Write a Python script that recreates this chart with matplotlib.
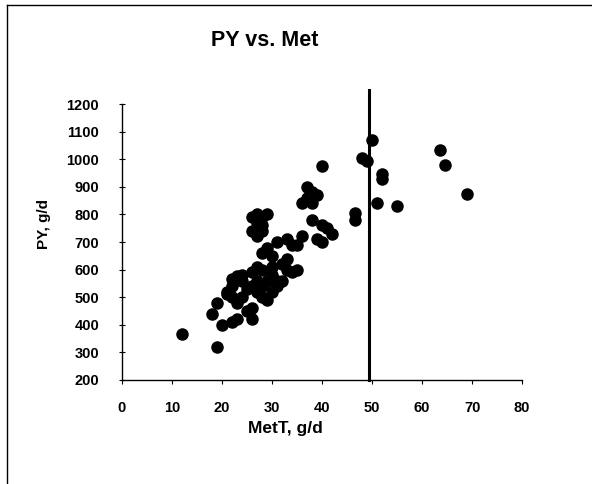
import matplotlib.pyplot as plt
from matplotlib.lines import Line2D

# --- data (MetT g/d, PY g/d)
met_t = [12, 19, 18, 19, 20, 22, 23, 21, 22, 22, 23, 24, 23, 24, 25, 26,
         26, 25, 26, 27, 27, 28, 28, 28, 29, 29, 30, 30, 31, 30, 31, 26,
         27, 32, 33, 34, 35, 33, 32, 31, 33, 34, 36, 35, 21, 22, 24,
         26, 27, 28, 27, 28, 26, 27, 28, 29, 28, 29, 30,
         37, 38, 37, 39, 36, 38, 40,
         38, 40, 41, 42, 40, 39,
         46.5, 46.5, 48, 49, 50, 52, 52, 51, 55, 63.5, 64.5, 69]
py = [365, 318, 440, 478, 400, 410, 420, 510, 500, 565, 575, 580, 480, 500, 450, 420,
      460, 530, 540, 520, 560, 500, 540, 600, 490, 560, 520, 580, 540, 610, 560, 590,
      610, 560, 600, 590, 600, 640, 620, 700, 710, 690, 720, 690, 520, 540, 560,
      790, 800, 790, 770, 760, 740, 720, 740, 800, 660, 680, 650,
      900, 880, 860, 870, 840, 840, 975,
      780, 760, 750, 730, 700, 710,
      780, 805, 1005, 995, 1070, 930, 945, 840, 832, 1035, 978, 875]

x_ticks = list(range(0, 81, 10))
y_ticks = list(range(200, 1201, 100))
cut_x = 49.3

fig = plt.figure(figsize=(5.92, 4.84), dpi=100)
plt.rcParams['font.family'] = ['Liberation Sans', 'DejaVu Sans']

ax = fig.add_axes([0.206, 0.215, 0.676, 0.570])
ax.plot(met_t, py, 'o', color='black', ms=8, mec='black', clip_on=False)
ax.plot([cut_x, cut_x], [200, 1250], color='black', lw=2.2, clip_on=False)

ax.set_xlim(0, 80)
ax.set_ylim(200, 1200)
ax.set_xticks(x_ticks)
ax.set_yticks(y_ticks)
for s in ['top', 'right']:
    ax.spines[s].set_visible(False)
for s in ['left', 'bottom']:
    ax.spines[s].set_linewidth(1.0)
ax.tick_params(axis='x', direction='out', length=3, pad=12, labelsize=10.5)
ax.tick_params(axis='y', direction='inout', length=5, pad=14, labelsize=10.5)
for lab in ax.get_xticklabels() + ax.get_yticklabels():
    lab.set_fontweight('bold')

fig.text(265 / 592, 1 - 40 / 484, 'PY vs. Met', ha='center', va='center',
         fontsize=15.5, fontweight='bold')
fig.text(285 / 592, 1 - 428 / 484, 'MetT, g/d', ha='center', va='center',
         fontsize=12.5, fontweight='bold')
fig.text(44 / 592, 1 - 224 / 484, 'PY, g/d', ha='center', va='center',
         rotation=90, fontsize=11, fontweight='bold')

# chart frame (top and left edges visible)
fig.add_artist(Line2D([7 / 592, 1], [1 - 5 / 484, 1 - 5 / 484], color='black', lw=1))
fig.add_artist(Line2D([7 / 592, 7 / 592], [0, 1 - 5 / 484], color='black', lw=1))

fig.savefig('out.png', dpi=100)
